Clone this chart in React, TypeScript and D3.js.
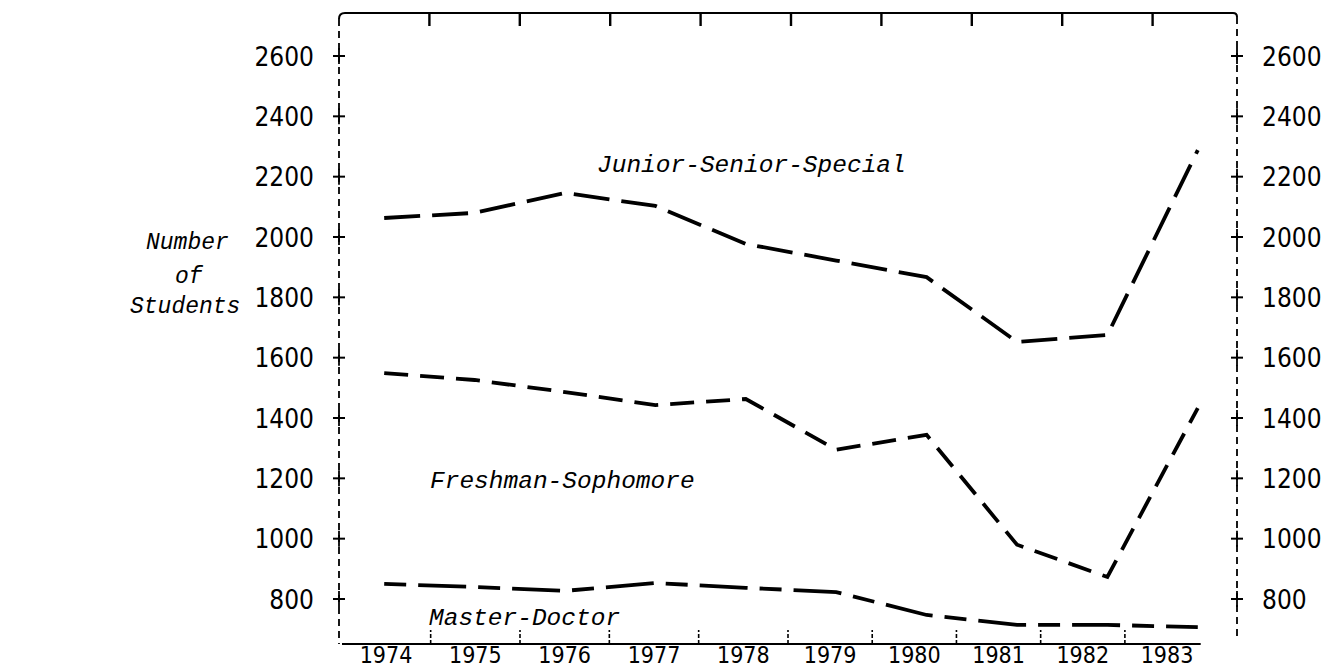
import React from "react";
import * as d3 from "d3";

const years = [1974, 1975, 1976, 1977, 1978, 1979, 1980, 1981, 1982, 1983];
const juniorSeniorSpecial = [2063, 2080, 2146, 2103, 1977, 1922, 1867, 1652, 1675, 2288];
const freshmanSophomore = [1549, 1526, 1486, 1443, 1463, 1295, 1344, 980, 873, 1433];
const masterDoctor = [850, 840, 827, 853, 837, 823, 747, 714, 714, 707];
const yTicks = [800, 1000, 1200, 1400, 1600, 1800, 2000, 2200, 2400, 2600];
const seriesLabels = ["Junior-Senior-Special", "Freshman-Sophomore", "Master-Doctor"];
const axisTitle = ["Number", "of", "Students"];

const W = 1329;
const H = 668;
const LEFT = 339;
const RIGHT = 1237;
const TOP = 13;
const BOTTOM = 644;

const numFont = "'DejaVu Sans Condensed', 'DejaVu Sans', sans-serif";
const typeFont = "'Liberation Mono', 'Courier New', monospace";

export default function App() {
  const x = d3.scaleBand<number>().domain(years).range([LEFT, 1243]).paddingInner(0).paddingOuter(0);
  const xc = (yr: number) => (x(yr) as number) + x.bandwidth() / 2;
  // bottom (printed) axis is slightly compressed in the original
  const xb = d3.scaleLinear().domain([1974, 1978.5, 1983]).range([386, 788, 1167]);
  const y = d3.scaleLinear().domain([800, 2600]).range([599, 56]);

  const line = d3
    .line<[number, number]>()
    .x((d) => xc(d[0]))
    .y((d) => y(d[1]))
    .curve(d3.curveLinear);

  const series = [
    { vals: juniorSeniorSpecial, dash: "36,12" },
    { vals: freshmanSophomore, dash: "24,12" },
    { vals: masterDoctor, dash: "22,12,48,12" },
  ];

  const boundaries = years.slice(0, -1).map((yr) => yr + 0.5);

  return (
    <svg
      width={W}
      height={H}
      style={{ position: "absolute", left: 0, top: 0, background: "#fff" }}
    >
      <rect x={0} y={0} width={W} height={H} fill="#fff" />
      {/* top axis */}
      <path
        d={`M${LEFT},${TOP + 6} Q${LEFT},${TOP} ${LEFT + 6},${TOP} L${RIGHT - 4},${TOP} Q${RIGHT},${TOP} ${RIGHT},${TOP + 4}`}
        fill="none"
        stroke="#000"
        strokeWidth={2}
      />
      {boundaries.map((b) => (
        <line
          key={"tt" + b}
          x1={x(b - 0.5)! + x.bandwidth()}
          x2={x(b - 0.5)! + x.bandwidth()}
          y1={TOP}
          y2={TOP + 13}
          stroke="#000"
          strokeWidth={2.4}
        />
      ))}
      {/* left and right dashed axes */}
      <line x1={LEFT} x2={LEFT} y1={TOP + 6} y2={BOTTOM} stroke="#000" strokeWidth={1.8} strokeDasharray="7,5" />
      <line x1={RIGHT} x2={RIGHT} y1={TOP + 4} y2={BOTTOM - 4} stroke="#000" strokeWidth={1.8} strokeDasharray="7,5" />
      {/* bottom axis */}
      <line x1={LEFT + 3} x2={xb(1983.4)} y1={BOTTOM} y2={BOTTOM} stroke="#000" strokeWidth={1.8} />
      {boundaries.map((b) => (
        <line
          key={"bt" + b}
          x1={xb(b)}
          x2={xb(b)}
          y1={BOTTOM}
          y2={BOTTOM - 14}
          stroke="#000"
          strokeWidth={1.6}
          strokeDasharray="4,2"
        />
      ))}
      {years.map((yr) => (
        <text
          key={"yl" + yr}
          x={xb(yr)}
          y={662.5}
          textAnchor="middle"
          fontFamily={numFont}
          fontStretch="condensed"
          fontSize={23}
          fill="#000"
        >
          {yr}
        </text>
      ))}
      {/* y ticks both sides */}
      {yTicks.map((t) => (
        <g key={"yt" + t}>
          <line x1={LEFT - 6} x2={LEFT + 6} y1={y(t)} y2={y(t)} stroke="#000" strokeWidth={2} />
          <line x1={LEFT} x2={LEFT} y1={y(t) - 8} y2={y(t) + 8} stroke="#000" strokeWidth={1.8} />
          <line x1={RIGHT - 6} x2={RIGHT + 6} y1={y(t)} y2={y(t)} stroke="#000" strokeWidth={2} />
          <line x1={RIGHT} x2={RIGHT} y1={y(t) - 8} y2={y(t) + 8} stroke="#000" strokeWidth={1.8} />
          <text
            x={314}
            y={y(t)}
            dy="0.37em"
            textAnchor="end"
            fontFamily={numFont}
            fontStretch="condensed"
            fontSize={26}
            fill="#000"
          >
            {t}
          </text>
          <text
            x={1262}
            y={y(t)}
            dy="0.37em"
            textAnchor="start"
            fontFamily={numFont}
            fontStretch="condensed"
            fontSize={26}
            fill="#000"
          >
            {t}
          </text>
        </g>
      ))}
      {/* series */}
      {series.map((s, i) => (
        <path
          key={"s" + i}
          d={line(years.map((yr, j) => [yr, s.vals[j]] as [number, number])) || ""}
          fill="none"
          stroke="#000"
          strokeWidth={3.8}
          strokeDasharray={s.dash}
        />
      ))}
      {/* series labels */}
      <text x={597} y={172} fontFamily={typeFont} fontStyle="italic" fontSize={24.5} fill="#000">
        {seriesLabels[0]}
      </text>
      <text x={430} y={488} fontFamily={typeFont} fontStyle="italic" fontSize={24.5} fill="#000">
        {seriesLabels[1]}
      </text>
      <text x={429} y={625} fontFamily={typeFont} fontStyle="italic" fontSize={24.5} fill="#000">
        {seriesLabels[2]}
      </text>
      {/* y axis title */}
      <text x={146} y={249} fontFamily={typeFont} fontStyle="italic" fontSize={23} fill="#000">
        {axisTitle[0]}
      </text>
      <text x={175} y={283} fontFamily={typeFont} fontStyle="italic" fontSize={23} fill="#000">
        {axisTitle[1]}
      </text>
      <text x={130} y={313} fontFamily={typeFont} fontStyle="italic" fontSize={23} fill="#000">
        {axisTitle[2]}
      </text>
    </svg>
  );
}
